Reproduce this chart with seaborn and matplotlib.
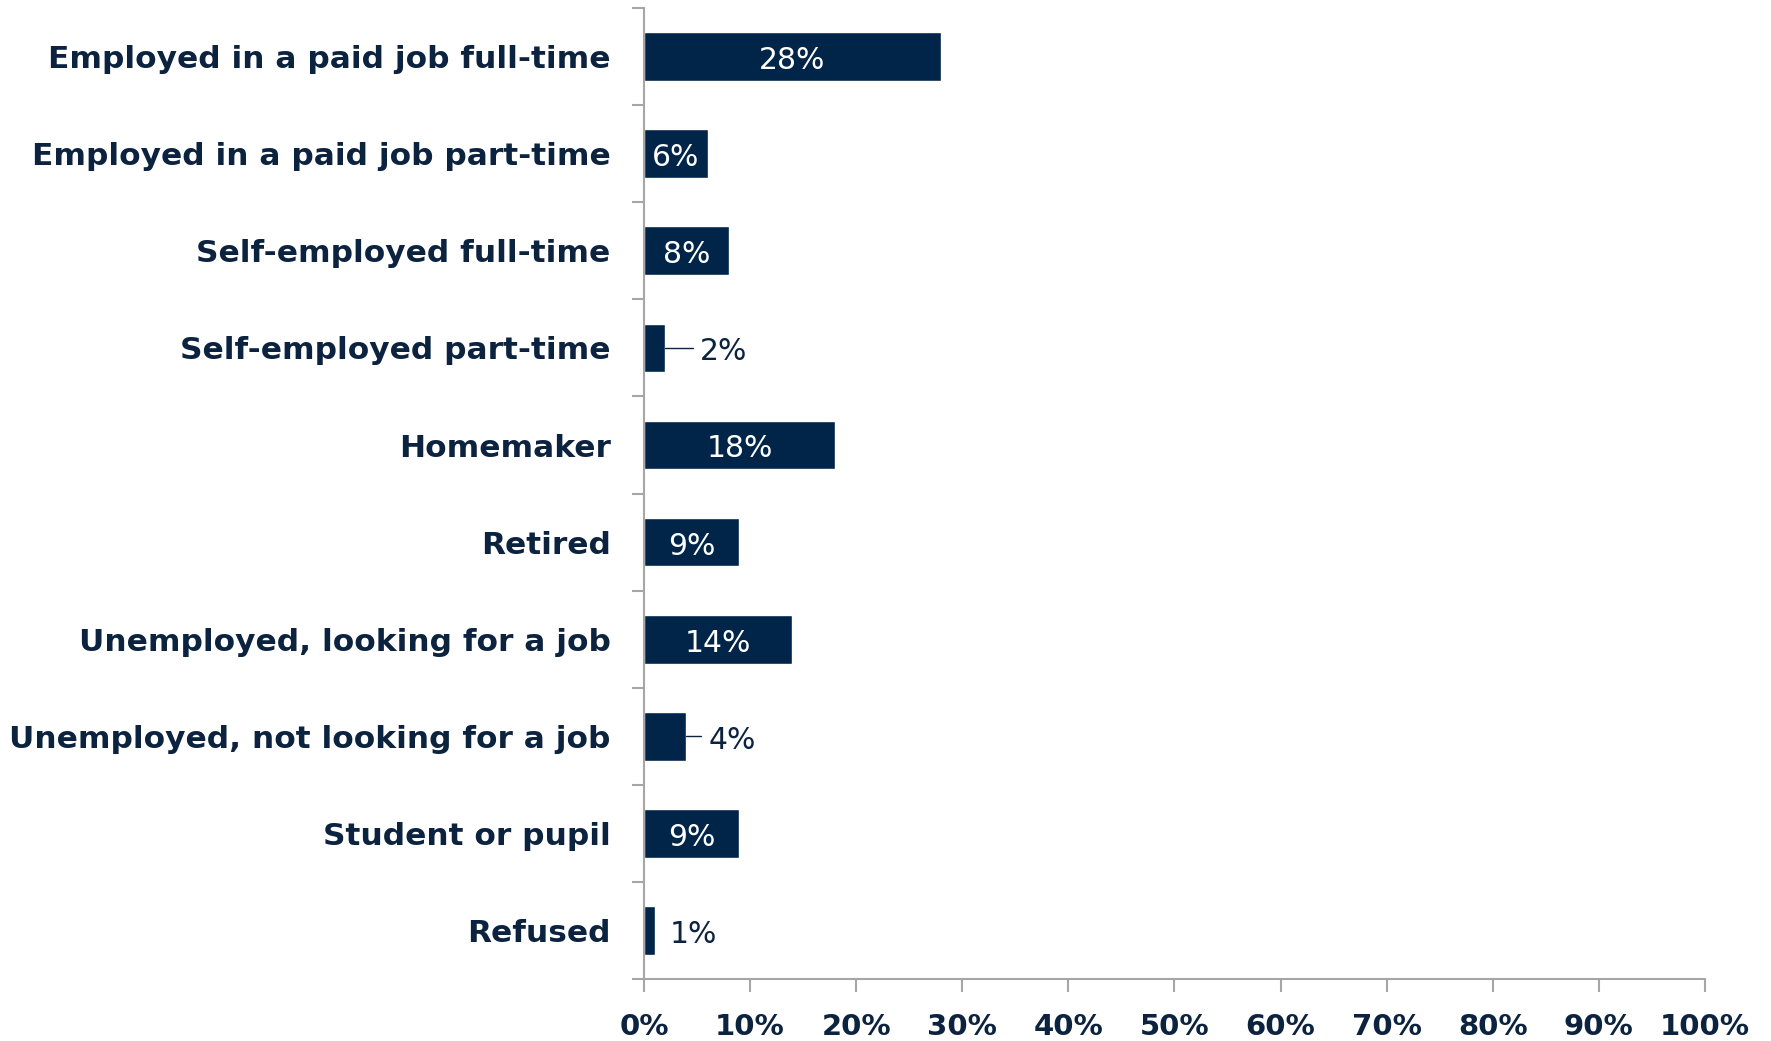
import matplotlib
matplotlib.use("Agg")
import matplotlib.pyplot as plt
import pandas as pd
import seaborn as sns
from matplotlib.ticker import FixedLocator, PercentFormatter

# datos del grafico
categories = [
    "Employed in a paid job full-time",
    "Employed in a paid job part-time",
    "Self-employed full-time",
    "Self-employed part-time",
    "Homemaker",
    "Retired",
    "Unemployed, looking for a job",
    "Unemployed, not looking for a job",
    "Student or pupil",
    "Refused",
]
values = [28, 6, 8, 2, 18, 9, 14, 4, 9, 1]

df = pd.DataFrame({"Status": categories, "Share": values})

navy = "#002548"
text_color = "#0c2340"
grey = "#a6a6a6"

sns.set_style("white")
plt.rcParams["font.family"] = ["DejaVu Sans"]

fig = plt.figure(figsize=(17.71, 10.41), dpi=100)
ax = fig.add_axes([0.3636, 0.0593, 0.5991, 0.9331])

sns.barplot(data=df, x="Share", y="Status", orient="h", color=navy,
            saturation=1, width=0.5, ax=ax)

ax.set_xlim(0, 100)
ax.set_ylim(len(categories) - 0.5, -0.5)
ax.set_xlabel("")
ax.set_ylabel("")

# ejes estilo excel
for side in ["top", "right"]:
    ax.spines[side].set_visible(False)
for side in ["left", "bottom"]:
    ax.spines[side].set_color(grey)
    ax.spines[side].set_linewidth(1.5)

ax.xaxis.set_major_locator(FixedLocator(range(0, 101, 10)))
ax.xaxis.set_major_formatter(PercentFormatter(decimals=0))
ax.tick_params(axis="x", bottom=True, direction="out", length=9, width=1.5, color=grey,
               labelsize=21, labelcolor=text_color, pad=15)
for lab in ax.get_xticklabels():
    lab.set_fontweight("bold")

# marcas del eje y entre categorias
ax.yaxis.set_minor_locator(FixedLocator([i - 0.5 for i in range(len(categories) + 1)]))
ax.tick_params(axis="y", which="minor", left=True, direction="out", length=9,
               width=1.5, color=grey)
ax.tick_params(axis="y", which="major", left=False, length=0, labelsize=22.5,
               labelcolor=text_color, pad=24)
for lab in ax.get_yticklabels():
    lab.set_fontweight("bold")

# etiquetas de valores
outside = {2: (5.3, True), 4: (6.1, True), 1: (2.4, False)}
for i, v in enumerate(values):
    if v in outside:
        tx, leader = outside[v]
        if leader:
            ax.plot([v, tx - 0.7], [i, i], color=text_color, lw=1)
        ax.text(tx, i + 0.04, f"{v}%", ha="left", va="center",
                fontsize=21.5, color=text_color)
    else:
        ax.text(v / 2, i + 0.04, f"{v}%", ha="center", va="center",
                fontsize=21.5, color="white")

fig.savefig("out.png", dpi=100)
